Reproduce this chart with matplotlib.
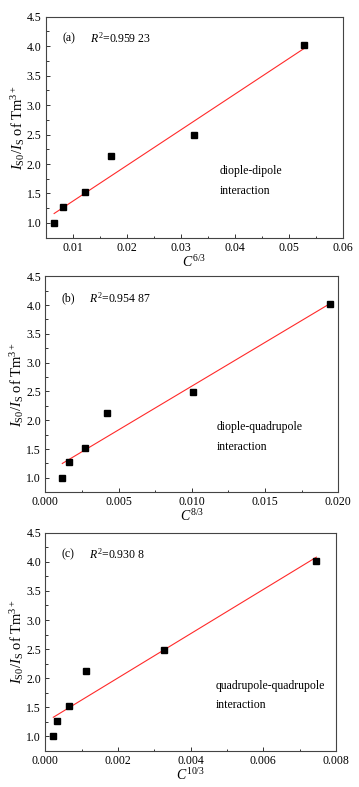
import numpy as np
import matplotlib
matplotlib.use('Agg')
import matplotlib.pyplot as plt
from matplotlib.ticker import MultipleLocator, FormatStrFormatter

plt.rcParams['font.family'] = ['Liberation Serif', 'DejaVu Serif']
plt.rcParams['mathtext.fontset'] = 'custom'
plt.rcParams['mathtext.rm'] = 'Liberation Serif'
plt.rcParams['mathtext.it'] = 'Liberation Serif:italic'
plt.rcParams['font.size'] = 8.5

# ratio I_S0/I_S (same for all panels)
ratio = [1.00, 1.27, 1.52, 2.13, 2.49, 4.02]

# concentration terms
c_6 = [0.00656, 0.0082, 0.0122, 0.0170, 0.0324, 0.0528]
c_8 = [0.00116, 0.00162, 0.00273, 0.00423, 0.0101, 0.0194]
c_10 = [0.00022, 0.00033, 0.00064, 0.00112, 0.00328, 0.00746]

# fitted lines (end points)
fit_6_x, fit_6_y = [0.00656, 0.0528], [1.16, 3.96]
fit_8_x, fit_8_y = [0.00116, 0.0194], [1.25, 4.02]
fit_10_x, fit_10_y = [0.00022, 0.00746], [1.33, 4.08]

panels = [
    ('(a)', '0.959 23', r'$C^{\rm 6/3}$', c_6, fit_6_x, fit_6_y, 'diople-dipole',
     (0.005, 0.06), 0.01, '%.2f', [0.1273, 0.698, 0.828, 0.2808]),
    ('(b)', '0.954 87', r'$C^{\rm 8/3}$', c_8, fit_8_x, fit_8_y, 'diople-quadrupole',
     (0.0, 0.02), 0.005, '%.3f', [0.1262, 0.3745, 0.8162, 0.2745]),
    ('(c)', '0.930 8', r'$C^{\rm 10/3}$', c_10, fit_10_x, fit_10_y, 'quadrupole-quadrupole',
     (0.0, 0.008), 0.002, '%.3f', [0.1262, 0.0457, 0.8097, 0.2774]),
]

fig = plt.figure(figsize=(3.59, 7.87), dpi=100)

for tag, r2, xlab, xs, fx, fy, kind, xlim, step, fmt, pos in panels:
    ax = fig.add_axes(pos)
    ax.plot(fx, fy, color='#ff2a2a', lw=0.8, zorder=2)
    ax.plot(xs, ratio, 's', color='black', ms=3.8, zorder=3)
    ax.set_xlim(*xlim)
    ax.set_ylim(0.75, 4.5)
    ax.xaxis.set_major_locator(MultipleLocator(step))
    ax.xaxis.set_minor_locator(MultipleLocator(step / 2))
    ax.xaxis.set_major_formatter(FormatStrFormatter(fmt))
    ax.yaxis.set_major_locator(MultipleLocator(0.5))
    ax.yaxis.set_minor_locator(MultipleLocator(0.25))
    ax.yaxis.set_major_formatter(FormatStrFormatter('%.1f'))
    ax.tick_params(which='both', direction='in', top=False, right=False,
                   width=0.7, color='#333333', labelsize=8.5, pad=3)
    ax.tick_params(which='major', length=3)
    ax.tick_params(which='minor', length=1.8)
    for s in ax.spines.values():
        s.set_color('#444444')
        s.set_linewidth(0.8)
    ax.set_xlabel(xlab, fontsize=10, labelpad=0)
    ax.set_ylabel(r'$I_{\rm S0}/I_{\rm S}$ of Tm$^{3+}$', fontsize=10.5, labelpad=0)
    ax.text(0.055, 0.90, tag, transform=ax.transAxes, fontsize=8.5, va='center')
    ax.text(0.150, 0.90, r'$R^{2}$=' + r2, transform=ax.transAxes, fontsize=8.5, va='center')
    ax.text(0.585, 0.30, kind, transform=ax.transAxes, fontsize=8.5, va='center')
    ax.text(0.585, 0.21, 'interaction', transform=ax.transAxes, fontsize=8.5, va='center')

fig.savefig('out.png', dpi=100)
